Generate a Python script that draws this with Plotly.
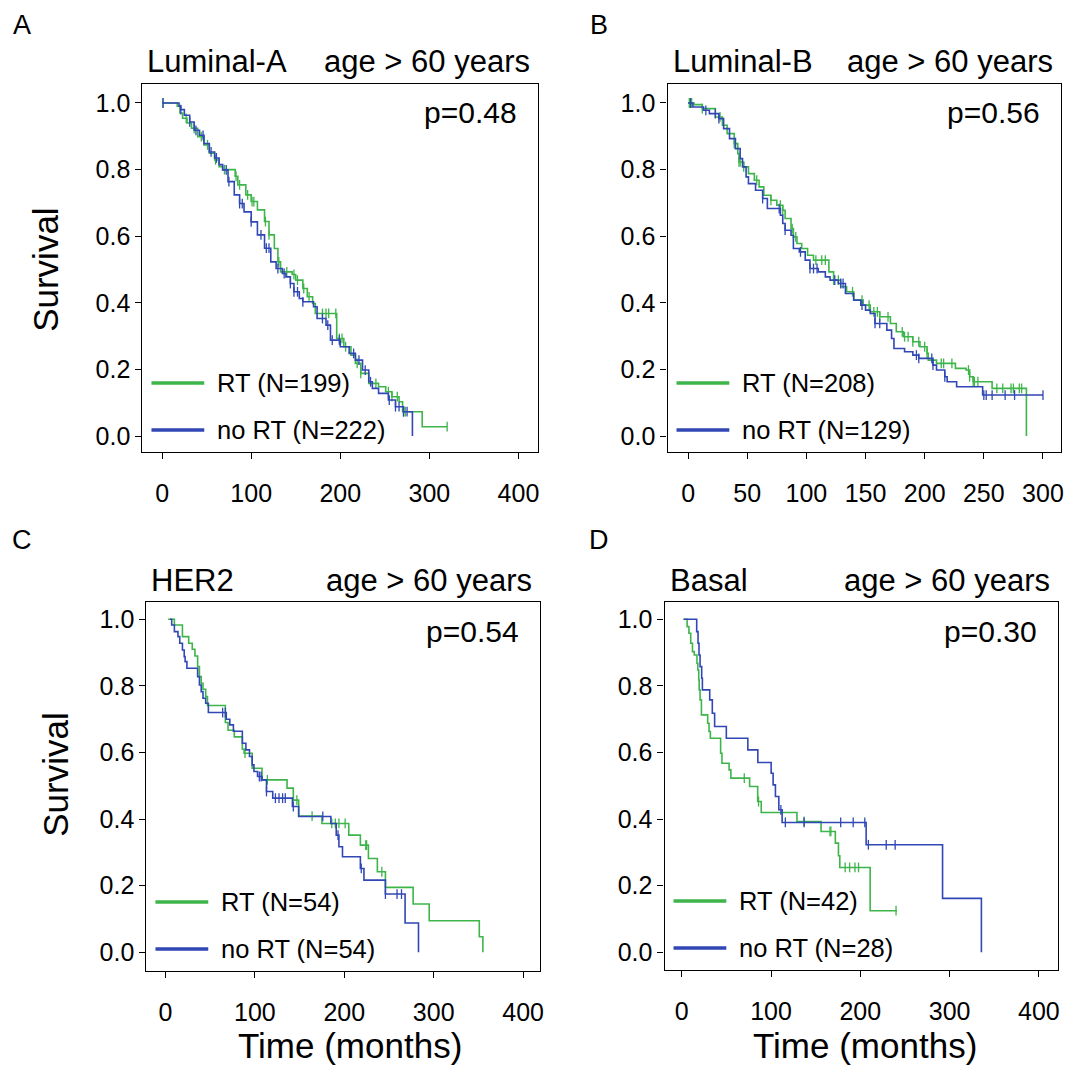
import numpy as np
import plotly.graph_objects as go

# ---------------- data ----------------
# Panel A : Luminal-A
A_RT_t = [0, 17, 20, 23, 28, 33, 40, 47, 53, 59, 64, 68, 82, 85, 94, 100, 107, 115, 120, 126,
          130, 133, 146, 150, 158, 163, 169, 172, 196, 204, 212, 217, 223, 232, 243, 251, 258, 266, 270, 292, 320]
A_RT_s = [1.0, 0.99, 0.97, 0.954, 0.94, 0.924, 0.899, 0.874, 0.849, 0.829, 0.809, 0.80, 0.78, 0.754, 0.724, 0.704,
          0.679, 0.644, 0.604, 0.563, 0.523, 0.493, 0.485, 0.468, 0.443, 0.418, 0.398, 0.368, 0.293, 0.268,
          0.243, 0.218, 0.188, 0.158, 0.148, 0.133, 0.118, 0.103, 0.073, 0.028, 0.028]
A_NO_t = [0, 19, 21, 25, 31, 36, 42, 47, 53, 59, 64, 68, 74, 81, 87, 92, 100, 107, 115, 122,
          128, 135, 139, 144, 148, 154, 158, 170, 174, 184, 189, 200, 210, 217, 225, 232, 236, 243, 254, 262, 271, 281]
A_NO_s = [1.0, 0.99, 0.98, 0.963, 0.943, 0.918, 0.903, 0.878, 0.853, 0.835, 0.815, 0.799, 0.764, 0.724, 0.698,
          0.673, 0.643, 0.604, 0.564, 0.523, 0.503, 0.488, 0.478, 0.458, 0.433, 0.413, 0.403, 0.388, 0.353, 0.333,
          0.288, 0.268, 0.248, 0.228, 0.198, 0.163, 0.143, 0.128, 0.108, 0.088, 0.073, 0.0]
A_RT_c = [1, 27, 36, 44, 51, 60, 70, 83, 87, 96, 101, 103, 116, 120, 131, 140, 148, 152, 159, 165, 180, 184,
          187, 195, 199, 202, 206, 219, 223, 240, 254, 258, 264, 271, 273, 320]
A_NO_c = [1, 21, 31, 38, 46, 55, 61, 72, 75, 87, 90, 100, 111, 117, 120, 130, 137, 144, 148, 152, 158, 180,
          186, 191, 199, 215, 221, 228, 234, 255, 262, 266, 271, 275]

# Panel B : Luminal-B
B_RT_t = [0, 5, 12, 23, 29, 33, 39, 42, 43, 47, 51, 56, 60, 64, 70, 75, 80, 82, 87, 89, 92, 96, 101, 106,
          119, 123, 129, 134, 140, 148, 154, 162, 171, 176, 182, 190, 196, 202, 203, 210, 226, 235, 238, 241, 257, 286]
B_RT_s = [1.0, 0.995, 0.983, 0.958, 0.933, 0.908, 0.878, 0.848, 0.823, 0.808, 0.788, 0.768, 0.748, 0.723, 0.708,
          0.693, 0.678, 0.653, 0.623, 0.598, 0.578, 0.563, 0.543, 0.528, 0.493, 0.468, 0.448, 0.433, 0.408, 0.393,
          0.373, 0.358, 0.338, 0.313, 0.298, 0.283, 0.268, 0.248, 0.228, 0.218, 0.203, 0.198, 0.178, 0.163, 0.143, 0.0]
B_NO_t = [0, 4, 13, 18, 26, 30, 35, 40, 44, 46, 49, 51, 57, 63, 67, 78, 80, 82, 87, 89, 94, 99, 103, 110,
          116, 120, 127, 133, 140, 146, 150, 154, 158, 168, 172, 174, 183, 190, 195, 207, 210, 217, 219, 227, 249, 300]
B_NO_s = [1.0, 0.988, 0.978, 0.968, 0.953, 0.923, 0.893, 0.863, 0.833, 0.808, 0.778, 0.758, 0.738, 0.713, 0.683,
          0.663, 0.638, 0.618, 0.603, 0.563, 0.553, 0.528, 0.503, 0.493, 0.478, 0.468, 0.458, 0.428, 0.408, 0.393,
          0.378, 0.368, 0.338, 0.318, 0.293, 0.263, 0.253, 0.243, 0.233, 0.213, 0.198, 0.178, 0.163, 0.148, 0.123, 0.123]
B_RT_c = [1, 3, 12, 27, 39, 43, 44, 47, 58, 70, 78, 80, 88, 91, 108, 113, 116, 123, 127, 139, 147, 153, 157,
          160, 162, 169, 181, 183, 186, 190, 195, 200, 202, 214, 216, 223, 237, 238, 241, 242, 245, 261, 266,
          273, 275, 280, 282]
B_NO_c = [2, 15, 23, 26, 63, 77, 82, 95, 103, 106, 109, 124, 129, 131, 147, 158, 162, 193, 195, 206, 207,
          217, 250, 252, 257, 268, 276, 300]

# Panel C : HER2
C_RT_t = [3, 10, 19, 26, 30, 33, 36, 38, 40, 42, 45, 47, 67, 70, 77, 86, 88, 97, 108, 136,
          143, 149, 175, 205, 218, 227, 237, 246, 277, 295, 351, 355]
C_RT_s = [1.0, 0.983, 0.948, 0.928, 0.910, 0.890, 0.858, 0.828, 0.808, 0.79, 0.768, 0.741, 0.69, 0.667, 0.647,
          0.61, 0.598, 0.553, 0.518, 0.493, 0.457, 0.409, 0.387, 0.352, 0.322, 0.282, 0.242, 0.195, 0.145,
          0.095, 0.047, 0.0]
C_NO_t = [5, 7, 10, 14, 16, 19, 21, 22, 24, 36, 38, 40, 42, 45, 48, 68, 72, 76, 86, 90,
          94, 97, 99, 103, 108, 113, 120, 142, 149, 185, 191, 194, 198, 218, 222, 246, 268, 283]
C_NO_s = [1.0, 0.983, 0.963, 0.948, 0.928, 0.908, 0.888, 0.873, 0.853, 0.828, 0.803, 0.783, 0.763, 0.748, 0.72,
          0.70, 0.683, 0.664, 0.628, 0.608, 0.588, 0.563, 0.543, 0.528, 0.518, 0.483, 0.463, 0.438, 0.408,
          0.387, 0.352, 0.317, 0.287, 0.252, 0.217, 0.175, 0.088, 0.0]
C_RT_c = [89, 114, 147, 164, 186, 190, 194, 201, 224, 225, 242]
C_NO_c = [64, 67, 105, 107, 113, 123, 127, 131, 134, 143, 176, 193, 219, 246, 259, 264]

# Panel D : Basal
D_RT_t = [2, 6, 8, 10, 12, 14, 17, 18, 19, 19.5, 20.5, 22, 29, 30.5, 32, 43.5, 45, 53, 55, 76,
          85, 89, 129, 156, 172, 175.5, 177, 211, 241]
D_RT_s = [1.0, 0.978, 0.958, 0.928, 0.903, 0.893, 0.868, 0.848, 0.818, 0.788, 0.758, 0.713, 0.688, 0.663, 0.643,
          0.598, 0.568, 0.548, 0.523, 0.498, 0.453, 0.42, 0.393, 0.363, 0.328, 0.29, 0.255, 0.125, 0.125]
D_NO_t = [2, 16.7, 18.2, 19.3, 20.5, 22.3, 23.1, 31.3, 34.2, 36.8, 49.9, 74, 85.2, 100.1, 102.3, 104.9,
          108.7, 112.4, 206.5, 292.1, 335.6]
D_NO_s = [1.0, 0.963, 0.928, 0.893, 0.858, 0.823, 0.788, 0.758, 0.718, 0.678, 0.643, 0.608, 0.57, 0.538,
          0.503, 0.468, 0.428, 0.39, 0.323, 0.162, 0.0]
D_RT_c = [70, 86, 137, 166, 167, 183, 188, 194, 198, 240]
D_NO_c = [111, 116, 137, 178, 192, 205, 209, 229, 239]

panel_letters = ["A", "B", "C", "D"]
subtypes = ["Luminal-A", "Luminal-B", "HER2", "Basal"]
age_label = "age > 60 years"
p_values = ["p=0.48", "p=0.56", "p=0.54", "p=0.30"]
rt_labels = ["RT (N=199)", "RT (N=208)", "RT (N=54)", "RT (N=42)"]
no_labels = ["no RT (N=222)", "no RT (N=129)", "no RT (N=54)", "no RT (N=28)"]
x_ticks_A = [0, 100, 200, 300, 400]
x_ticks_B = [0, 50, 100, 150, 200, 250, 300]
y_ticks = [0.0, 0.2, 0.4, 0.6, 0.8, 1.0]

# ---------------- styling / layout ----------------
OFF = 8                      # page body margin of the html page
W, H = 1084 - OFF, 1065 - OFF
GREEN = "#3DB54A"
BLUE = "#3047B5"
FONT = "Arial, Liberation Sans, sans-serif"

def px_x(v):
    return (v - OFF) / W

def px_y(v):
    return 1 - (v - OFF) / H

panels = [
    dict(rt=(A_RT_t, A_RT_s, A_RT_c), no=(A_NO_t, A_NO_s, A_NO_c), xdom=(143, 540), ydom=(84, 452),
         xr=[-22, 422], yr=[-0.048, 1.057], xt=x_ticks_A),
    dict(rt=(B_RT_t, B_RT_s, B_RT_c), no=(B_NO_t, B_NO_s, B_NO_c), xdom=(670, 1065), ydom=(84, 452),
         xr=[-17.4, 315.3], yr=[-0.048, 1.057], xt=x_ticks_B),
    dict(rt=(C_RT_t, C_RT_s, C_RT_c), no=(C_NO_t, C_NO_s, C_NO_c), xdom=(147, 542), ydom=(602, 971),
         xr=[-21.2, 418.9], yr=[-0.056, 1.052], xt=x_ticks_A),
    dict(rt=(D_RT_t, D_RT_s, D_RT_c), no=(D_NO_t, D_NO_s, D_NO_c), xdom=(667, 1062), ydom=(602, 970),
         xr=[-19.3, 421.5], yr=[-0.053, 1.052], xt=x_ticks_A),
]

def step_value(t_arr, s_arr, tc):
    t_arr = np.asarray(t_arr, float)
    idx = np.searchsorted(t_arr, np.asarray(tc, float), side="right") - 1
    idx = np.clip(idx, 0, len(s_arr) - 1)
    return np.asarray(s_arr, float)[idx]

fig = go.Figure()
layout = dict(width=W, height=H, margin=dict(l=0, r=0, t=0, b=0),
              paper_bgcolor="white", plot_bgcolor="white", showlegend=False,
              font=dict(family=FONT, color="black"))
annotations = []
shapes = []

for i, p in enumerate(panels):
    n = "" if i == 0 else str(i + 1)
    xa, ya = "x" + n, "y" + n
    for (t, s, c), col in ((p["rt"], GREEN), (p["no"], BLUE)):
        fig.add_trace(go.Scatter(x=t, y=s, mode="lines", line=dict(color=col, width=1.6, shape="hv"),
                                 xaxis=xa, yaxis=ya, hoverinfo="skip"))
        fig.add_trace(go.Scatter(x=c, y=step_value(t, s, c), mode="markers",
                                 marker=dict(symbol="line-ns", size=7, color=col,
                                             line=dict(color=col, width=1.3)),
                                 xaxis=xa, yaxis=ya, hoverinfo="skip"))
    axcommon = dict(showline=True, mirror=True, linecolor="black", linewidth=1.3, ticks="outside",
                    ticklen=6, tickwidth=1.3, tickcolor="black", showgrid=False, zeroline=False,
                    tickfont=dict(family=FONT, size=25, color="black"))
    layout["xaxis" + n] = dict(axcommon, domain=[px_x(p["xdom"][0]), px_x(p["xdom"][1])], range=p["xr"],
                               tickvals=p["xt"], anchor=ya, ticklabelstandoff=13)
    layout["yaxis" + n] = dict(axcommon, domain=[px_y(p["ydom"][1]), px_y(p["ydom"][0])], range=p["yr"],
                               tickvals=y_ticks, tickformat=".1f", anchor=xa, ticklabelstandoff=0)

    x0, x1 = p["xdom"]
    top, bot = p["ydom"]
    # panel letter
    lx = 22 if i % 2 == 0 else 601
    if i < 2:
        annotations.append(dict(text=panel_letters[i], x=px_x(lx), y=1.0, xref="paper", yref="paper",
                                showarrow=False, xanchor="center", yanchor="top", font=dict(size=27)))
    else:
        annotations.append(dict(text=panel_letters[i], x=px_x(lx), y=px_y(top - 62), xref="paper",
                                yref="paper", showarrow=False, xanchor="center", yanchor="middle",
                                font=dict(size=27)))
    # titles
    annotations.append(dict(text=subtypes[i], x=px_x(x0 + 3), y=px_y(top - 22), xref="paper", yref="paper",
                            showarrow=False, xanchor="left", yanchor="middle", font=dict(size=31)))
    annotations.append(dict(text=age_label, x=px_x(x1 - 6), y=px_y(top - 22), xref="paper", yref="paper",
                            showarrow=False, xanchor="right", yanchor="middle", font=dict(size=31)))
    # p value
    annotations.append(dict(text=p_values[i], x=px_x(x1 - 19), y=px_y(top + 29), xref="paper", yref="paper",
                            showarrow=False, xanchor="right", yanchor="middle", font=dict(size=30)))
    # legend
    for k, (lab, col) in enumerate(((rt_labels[i], GREEN), (no_labels[i], BLUE))):
        ly = bot - 69 + k * 47
        shapes.append(dict(type="line", xref="paper", yref="paper", x0=px_x(x0 + 9), x1=px_x(x0 + 62),
                           y0=px_y(ly), y1=px_y(ly), line=dict(color=col, width=3.5)))
        annotations.append(dict(text=lab, x=px_x(x0 + 73), y=px_y(ly), xref="paper", yref="paper",
                                showarrow=False, xanchor="left", yanchor="middle", font=dict(size=25.5)))

# axis titles
for cx, cy in ((45, 270), (55, 775)):
    annotations.append(dict(text="Survival", x=px_x(cx), y=px_y(cy), xref="paper", yref="paper",
                            showarrow=False, textangle=-90, xanchor="center", yanchor="middle",
                            font=dict(size=35)))
for cx in (351, 868):
    annotations.append(dict(text="Time (months)", x=px_x(cx), y=px_y(1045), xref="paper", yref="paper",
                            showarrow=False, xanchor="center", yanchor="middle", font=dict(size=35)))

layout["annotations"] = annotations
layout["shapes"] = shapes
fig.update_layout(**layout)
fig.write_html("out.html")
